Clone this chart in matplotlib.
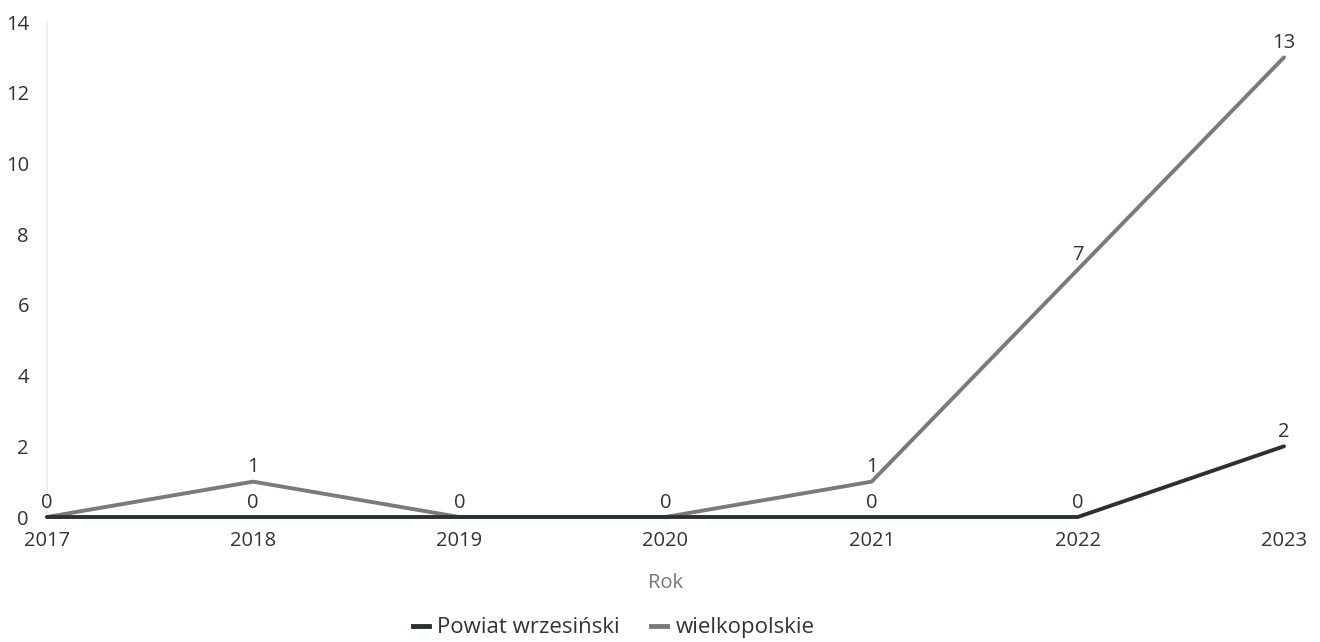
import matplotlib
matplotlib.use("Agg")
import matplotlib.pyplot as plt
from matplotlib.lines import Line2D

years = [2017, 2018, 2019, 2020, 2021, 2022, 2023]
powiat = [0, 0, 0, 0, 0, 0, 2]
wielkopolskie = [0, 1, 0, 0, 1, 7, 13]
yticks = [0, 2, 4, 6, 8, 10, 12, 14]

plt.rcParams['font.family'] = ['Open Sans', 'DejaVu Sans']
FS = 14.5

fig = plt.figure(figsize=(13.2, 6.42), dpi=100)
ax = fig.add_axes([0.0356, 0.1947, 0.9371, 0.771])

c_pow = '#283232'
c_wlk = '#7a7a7a'

ax.plot(years, wielkopolskie, color=c_wlk, lw=2.8, clip_on=False, solid_capstyle='round', zorder=2)
ax.plot(years, powiat, color=c_pow, lw=2.8, clip_on=False, solid_capstyle='round', zorder=3)

for x, yw, yp in zip(years, wielkopolskie, powiat):
    ax.annotate(str(yw), (x, yw), xytext=(0, 3), textcoords='offset points',
                ha='center', va='bottom', fontsize=FS, color='#333333')
    if yp != yw:
        ax.annotate(str(yp), (x, yp), xytext=(0, 3), textcoords='offset points',
                    ha='center', va='bottom', fontsize=FS, color='#333333')

ax.set_xlim(years[0], years[-1])
ax.set_ylim(0, 14)
ax.set_xticks(years)
ax.set_xticklabels([str(y) for y in years])
ax.set_yticks(yticks)
ax.tick_params(axis='both', length=0, labelsize=FS, labelcolor='#333333')
ax.tick_params(axis='y', pad=13)
ax.tick_params(axis='x', pad=10)
for s in ['top', 'right', 'bottom']:
    ax.spines[s].set_visible(False)
ax.spines['left'].set_color('#eeeeee')
ax.spines['left'].set_linewidth(1.5)

ax.set_xlabel('Rok', fontsize=FS, color='#777777', labelpad=16)

handles = [Line2D([0], [0], color=c_pow, lw=3.5),
           Line2D([0], [0], color=c_wlk, lw=3.5)]
fig.legend(handles, ['Powiat wrzesiński', 'wielkopolskie'], loc='center',
           bbox_to_anchor=(0.465, 0.022), ncol=2, frameon=False, fontsize=16,
           handlelength=0.7, handletextpad=0.4, columnspacing=1.4,
           labelcolor='#333333')

fig.savefig('out.png', dpi=100, facecolor='white')
